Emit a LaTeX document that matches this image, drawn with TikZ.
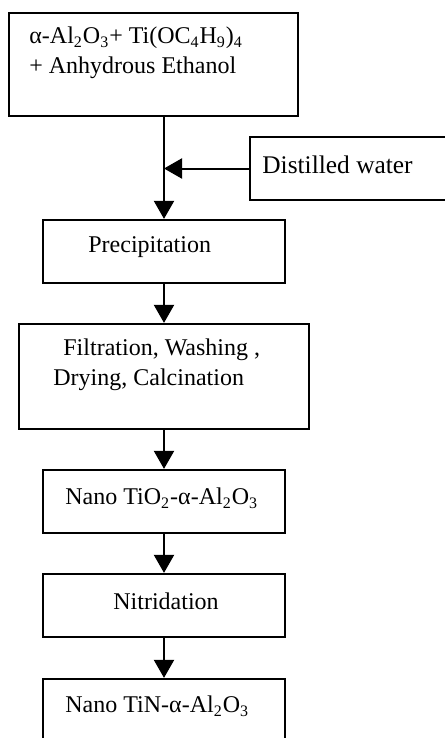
\documentclass[tikz,border=0pt]{standalone}
\usepackage{fontspec}
\setmainfont{Liberation Serif}
\usetikzlibrary{arrows.meta}

\begin{document}
\begin{tikzpicture}[x=0.5pt,y=-0.5pt,
    box/.style={draw,line width=1.1pt,minimum width=121pt,minimum height=31.5pt,inner sep=0pt},
    txt/.style={inner sep=0pt,anchor=west,align=left,font=\fontsize{12}{15}\selectfont},
    flow/.style={line width=1pt,-{Triangle[width=10pt,length=9pt]}}]
    \useasboundingbox (0,0) rectangle (444,738);

    \node[box,minimum width=144.5pt,minimum height=51.5pt] (mix) at (153.5,64.5) {};
    \node[box,minimum width=130pt] (water) at (380,168.5) {};
    \node[box] (prec) at (164,251.5) {};
    \node[box,minimum width=145pt,minimum height=52.5pt] (filt) at (164,376.5) {};
    \node[box] (tio) at (164,501.5) {};
    \node[box] (nitr) at (164,605.5) {};
    \node[box] (tin) at (164,710.5) {};

    \node[txt] (mixtxt) at (29,53) {α-Al\textsubscript{2}O\textsubscript{3}+ Ti(OC\textsubscript{4}H\textsubscript{9})\textsubscript{4}\\+ Anhydrous Ethanol};
    \node[txt,font=\fontsize{12.7}{15}\selectfont] (watertxt) at (262,165) {Distilled water};
    \node[txt] (prectxt) at (88,247) {Precipitation};
    \node[txt] (filttxt) at (53,365) {\hspace*{5pt}Filtration, Washing ,\\Drying, Calcination};
    \node[txt] (tiotxt) at (65,498) {Nano TiO\textsubscript{2}-α-Al\textsubscript{2}O\textsubscript{3}};
    \node[txt] (nitrtxt) at (113,601) {Nitridation};
    \node[txt] (tintxt) at (65,706) {Nano TiN-α-Al\textsubscript{2}O\textsubscript{3}};

    \draw[flow] (mix.south -| prec.north) -- (prec.north);
    \draw[flow] (water.west) -- (water.west -| prec.north);
    \draw[flow] (prec) -- (filt);
    \draw[flow] (filt) -- (tio);
    \draw[flow] (tio) -- (nitr);
    \draw[flow] (nitr) -- (tin);
\end{tikzpicture}
\end{document}
